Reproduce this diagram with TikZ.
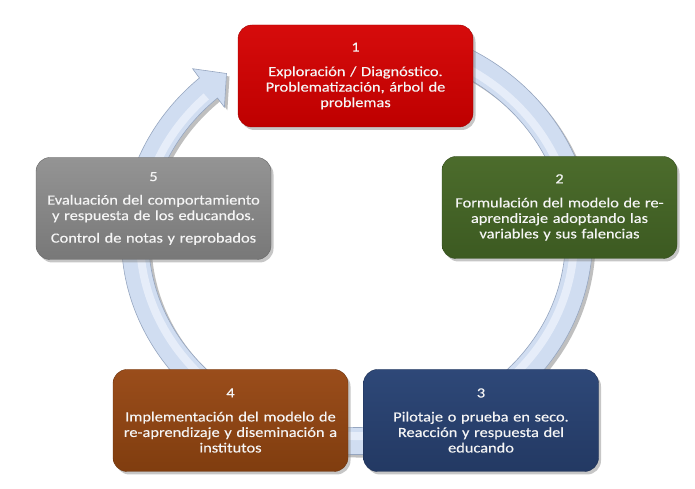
\documentclass[tikz,border=0pt]{standalone}
\usepackage{fontspec}
\setmainfont{Carlito}[FakeStretch=1.17,FakeBold=0.3]
\usetikzlibrary{shadows,calc}
\definecolor{redA}{RGB}{214,12,12}
\definecolor{redB}{RGB}{190,0,0}
\definecolor{greenA}{RGB}{76,108,44}
\definecolor{greenB}{RGB}{60,90,33}
\definecolor{navyA}{RGB}{46,72,120}
\definecolor{navyB}{RGB}{35,57,99}
\definecolor{brownA}{RGB}{154,77,27}
\definecolor{brownB}{RGB}{128,61,15}
\definecolor{grayA}{RGB}{148,148,148}
\definecolor{grayB}{RGB}{120,120,120}
\definecolor{ringfill}{RGB}{208,221,241}
\definecolor{ringhi}{RGB}{230,237,249}
\definecolor{ringedge}{RGB}{150,166,192}
\definecolor{txt}{RGB}{245,245,245}
\tikzset{
  box/.style={rounded corners=14pt, minimum width=235pt, minimum height=102pt,
    text width=230pt, align=center, inner sep=0pt, text=txt,
    font=\fontsize{14}{15.5}\selectfont,
    drop shadow={shadow xshift=2.5pt, shadow yshift=-3pt, opacity=0.45}},
  ring/.style={fill=ringfill, draw=ringedge, line width=0.6pt,
    drop shadow={shadow xshift=3pt, shadow yshift=-3pt, opacity=0.5}},
}
\begin{document}
\begin{tikzpicture}[x=1pt,y=1pt]
\useasboundingbox (0,0) rectangle (695,489);
\coordinate (C) at (357,250.5);
\coordinate (bo) at (192.6,420.3);
\coordinate (tip) at (226.5,415.5);
\coordinate (bi) at (224.4,381.7);
% ring arrow
\path[ring] ($(C)+(75:235.5 and 216)$)
  arc[start angle=75, end angle=-228, x radius=235.5, y radius=216]
  -- (bo) -- (tip) -- (bi)
  -- ($(C)+(132:208.5 and 189)$)
  arc[start angle=-228, end angle=75, x radius=208.5, y radius=189] -- cycle;
\draw[ringhi, line width=8pt] ($(C)+(74:217 and 197.5)$)
  arc[start angle=74, end angle=-226, x radius=217, y radius=197.5];
% boxes
\node[box, top color=redA, bottom color=redB, draw=redB!85!black] (b1) at (355.5,413)
  {1\\[9pt]Exploración / Diagnóstico.\\Problematización, árbol de\\problemas};
\node[box, top color=greenA, bottom color=greenB, draw=greenB!85!black] (b2) at (559.5,281.5)
  {2\\[8.5pt]Formulación del modelo de re-\\aprendizaje adoptando las\\variables y sus falencias};
\node[box, top color=navyA, bottom color=navyB, draw=navyB!85!black] (b3) at (481,68.5)
  {3\\[8.5pt]Pilotaje o prueba en seco.\\Reacción y respuesta del\\educando};
\node[box, top color=brownA, bottom color=brownB, draw=brownB!85!black] (b4) at (230.5,68.5)
  {4\\[8.5pt]Implementación del modelo de\\re-aprendizaje y diseminación a\\institutos};
\node[box, top color=grayA, bottom color=grayB, draw=grayB!85!black] (b5) at (153.5,280.5)
  {5\\[8pt]Evaluación del comportamiento\\y respuesta de los educandos.\\[7pt]Control de notas y reprobados};
\end{tikzpicture}
\end{document}
